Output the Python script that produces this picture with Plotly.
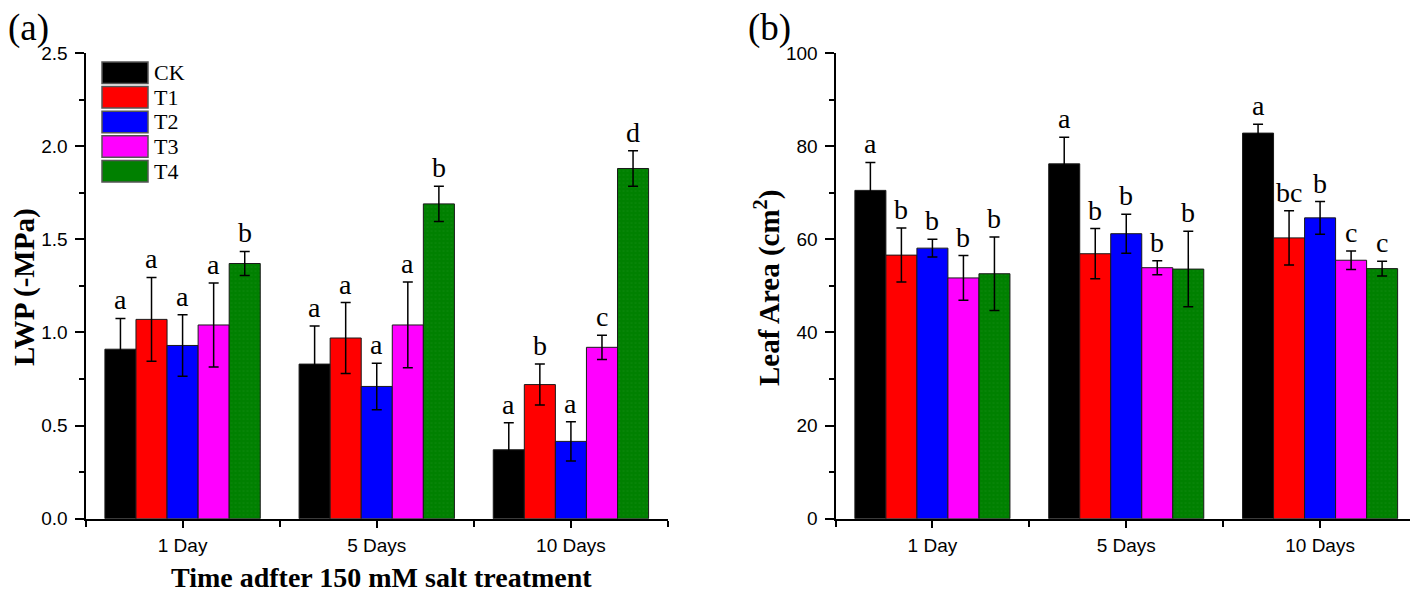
import plotly.graph_objects as go

# ---------------- data ----------------
days = ["1 Day", "5 Days", "10 Days"]
groups = ["CK", "T1", "T2", "T3", "T4"]
colors = ["#000000", "#ff0000", "#0000ff", "#ff00ff", "#008000"]

# LWP (-MPa)
lwp_ck = [0.91, 0.83, 0.37]
lwp_t1 = [1.07, 0.97, 0.72]
lwp_t2 = [0.93, 0.71, 0.415]
lwp_t3 = [1.04, 1.04, 0.92]
lwp_t4 = [1.37, 1.69, 1.88]
lwp_ck_err = [0.165, 0.205, 0.145]
lwp_t1_err = [0.225, 0.19, 0.11]
lwp_t2_err = [0.165, 0.125, 0.105]
lwp_t3_err = [0.225, 0.23, 0.065]
lwp_t4_err = [0.065, 0.095, 0.095]
lwp_ck_let = ["a", "a", "a"]
lwp_t1_let = ["a", "a", "b"]
lwp_t2_let = ["a", "a", "a"]
lwp_t3_let = ["a", "a", "c"]
lwp_t4_let = ["b", "b", "d"]

# Leaf area (cm2)
la_ck = [70.5, 76.2, 82.8]
la_t1 = [56.6, 56.9, 60.3]
la_t2 = [58.1, 61.2, 64.6]
la_t3 = [51.7, 53.9, 55.5]
la_t4 = [52.6, 53.6, 53.7]
la_ck_err = [6.0, 5.7, 1.9]
la_t1_err = [5.8, 5.4, 5.8]
la_t2_err = [1.9, 4.2, 3.5]
la_t3_err = [4.8, 1.5, 2.0]
la_t4_err = [7.9, 8.1, 1.6]
la_ck_let = ["a", "a", "a"]
la_t1_let = ["b", "b", "bc"]
la_t2_let = ["b", "b", "b"]
la_t3_let = ["b", "b", "c"]
la_t4_let = ["b", "b", "c"]

lwp_vals = [lwp_ck, lwp_t1, lwp_t2, lwp_t3, lwp_t4]
lwp_errs = [lwp_ck_err, lwp_t1_err, lwp_t2_err, lwp_t3_err, lwp_t4_err]
lwp_lets = [lwp_ck_let, lwp_t1_let, lwp_t2_let, lwp_t3_let, lwp_t4_let]
la_vals = [la_ck, la_t1, la_t2, la_t3, la_t4]
la_errs = [la_ck_err, la_t1_err, la_t2_err, la_t3_err, la_t4_err]
la_lets = [la_ck_let, la_t1_let, la_t2_let, la_t3_let, la_t4_let]

# ---------------- figure ----------------
OFF = 8                      # page body margin of the browser
W, H = 1418 - OFF, 594 - OFF


def fx(px):
    return (px - OFF) / W


def fy(py):
    return 1 - (py - OFF) / H


fig = go.Figure()

TIMES = "Liberation Serif, Times New Roman, serif"
ARIAL = "Liberation Sans, Arial, sans-serif"
BARGAP = 0.2
n = len(groups)
slot = (1 - BARGAP) / n


def add_panel(vals, errs, lets, xa, ya):
    for j, g in enumerate(groups):
        marker = dict(color=colors[j], line=dict(color="#1a1a1a", width=1))
        if g == "T4":
            marker["pattern"] = dict(shape=".", fgcolor="#1c8f1c", size=4,
                                     solidity=0.15, fillmode="overlay")
        fig.add_trace(go.Bar(
            x=days, y=vals[j], name=g, marker=marker,
            error_y=dict(type="data", array=errs[j], symmetric=True,
                         color="black", thickness=1.5, width=5),
            xaxis=xa, yaxis=ya, showlegend=False,
        ))
        for i in range(len(days)):
            xpos = i - (1 - BARGAP) / 2 + slot * (j + 0.5)
            fig.add_annotation(
                x=xpos, y=vals[j][i] + errs[j][i], xref=xa, yref=ya,
                text=lets[j][i], showarrow=False, yanchor="bottom",
                yshift=1, font=dict(family=TIMES, size=28, color="black"),
            )


add_panel(lwp_vals, lwp_errs, lwp_lets, "x", "y")
add_panel(la_vals, la_errs, la_lets, "x2", "y2")

ydom = [fy(518.7), fy(53)]
xdom1 = [fx(85.5), fx(668)]
xdom2 = [fx(835.5), fx(1417)]

xaxis_common = dict(
    type="category", range=[-0.5, 2.5], showline=True, linecolor="black",
    linewidth=2, ticks="outside", ticklen=7, tickwidth=1.5, tickcolor="black",
    showgrid=False, zeroline=False, ticklabelstandoff=1, automargin=False,
    tickfont=dict(family=ARIAL, size=19, color="black"),
    minor=dict(tickmode="array", tickvals=[-0.5, 0.5, 1.5, 2.5], ticks="outside",
               ticklen=6, tickwidth=1.5, tickcolor="black"),
)
yaxis_common = dict(
    showline=True, linecolor="black", linewidth=2, ticks="outside",
    ticklen=9, tickwidth=1.5, tickcolor="black", showgrid=False, zeroline=False,
    tickfont=dict(family=ARIAL, size=19, color="black"), ticklabelstandoff=3,
    automargin=False,
)

fig.update_layout(
    template="none",
    width=W, height=H, margin=dict(l=0, r=0, t=0, b=0, autoexpand=False),
    plot_bgcolor="white", paper_bgcolor="white",
    barmode="group", bargap=BARGAP, bargroupgap=0,
    xaxis=dict(domain=xdom1, anchor="y", **xaxis_common),
    yaxis=dict(domain=ydom, anchor="x", range=[0, 2.5], dtick=0.5,
               tickformat=".1f",
               minor=dict(dtick=0.25, ticks="outside", ticklen=5, tickwidth=1.5,
                          tickcolor="black"),
               **yaxis_common),
    xaxis2=dict(domain=xdom2, anchor="y2", **xaxis_common),
    yaxis2=dict(domain=ydom, anchor="x2", range=[0, 100], dtick=20,
                minor=dict(dtick=10, ticks="outside", ticklen=5, tickwidth=1.5,
                           tickcolor="black"),
                **yaxis_common),
)

# axis titles
fig.add_annotation(x=fx(381), y=fy(594), xref="paper", yref="paper",
                   xanchor="center", yanchor="bottom", showarrow=False,
                   borderpad=0,
                   text="<b>Time adfter 150 mM salt treatment</b>",
                   font=dict(family=TIMES, size=28, color="black"))
fig.add_annotation(x=fx(24), y=fy(287), xref="paper", yref="paper",
                   xanchor="center", yanchor="middle", showarrow=False,
                   textangle=-90, text="<b>LWP (-MPa)</b>",
                   font=dict(family=TIMES, size=29, color="black"))
fig.add_annotation(x=fx(767), y=fy(288), xref="paper", yref="paper",
                   xanchor="center", yanchor="middle", showarrow=False,
                   textangle=-90, text="<b>Leaf Area (cm<sup>2</sup>)</b>",
                   font=dict(family=TIMES, size=29, color="black"))

# panel labels
fig.add_annotation(x=0, y=1, xref="paper", yref="paper", xanchor="left",
                   yanchor="top", text="(a)", showarrow=False, yshift=3,
                   xshift=-2, font=dict(family=TIMES, size=37, color="black"))
fig.add_annotation(x=fx(746), y=1, xref="paper", yref="paper", xanchor="left",
                   yanchor="top", text="(b)", showarrow=False, yshift=3,
                   font=dict(family=TIMES, size=37, color="black"))

# legend (drawn as boxes + text)
for j, g in enumerate(groups):
    top = 62 + j * 24.6
    bot = top + 21.5
    fig.add_shape(type="rect", xref="paper", yref="paper",
                  x0=fx(102), x1=fx(148), y0=fy(bot), y1=fy(top),
                  fillcolor=colors[j], line=dict(color="#555555", width=1.5))
    fig.add_annotation(x=fx(152), y=fy((top + bot) / 2), xref="paper",
                       yref="paper", xanchor="left", yanchor="middle",
                       text=g, showarrow=False,
                       font=dict(family=TIMES, size=22, color="black"))

fig.write_html("out.html")
